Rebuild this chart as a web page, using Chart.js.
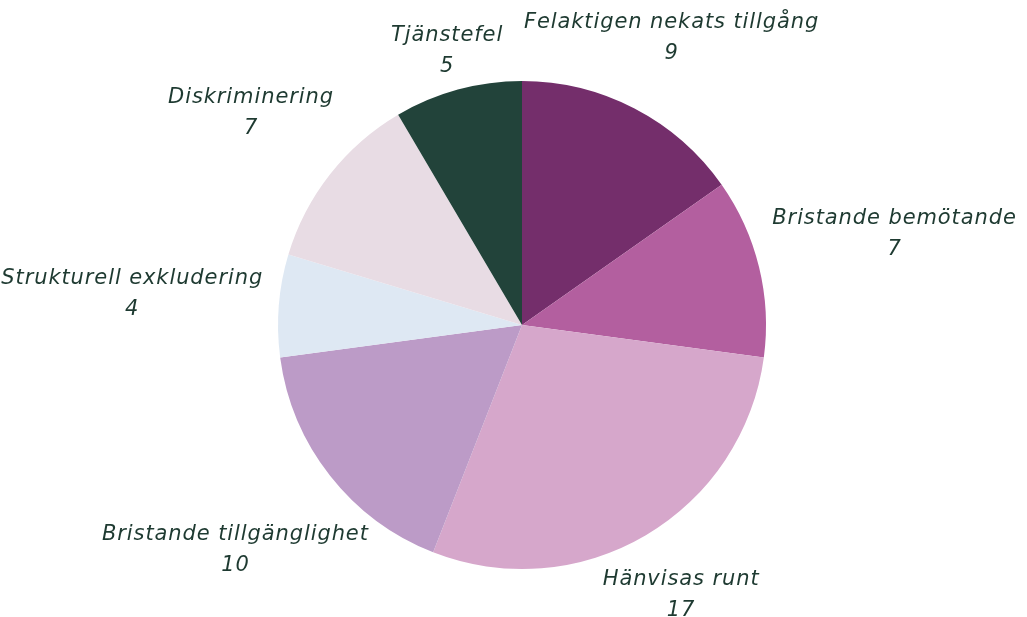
<!DOCTYPE html>
<html lang="sv">
<head>
  <meta charset="UTF-8" />
  <title>Ärenden per kategori</title>
  <script src="https://cdn.jsdelivr.net/npm/chart.js@4.4.1/dist/chart.umd.min.js"></script>
  <style>
    html, body { margin: 0; padding: 0; background: #ffffff; }
    #wrap { width: 1027px; height: 617px; }
  </style>
</head>
<body>
  <div id="wrap"><canvas id="pieChart" width="1027" height="617"></canvas></div>

  <script>
    // data
    const categories = [
      'Felaktigen nekats tillgång',
      'Bristande bemötande',
      'Hänvisas runt',
      'Bristande tillgänglighet',
      'Strukturell exkludering',
      'Diskriminering',
      'Tjänstefel'
    ];
    const counts = [9, 7, 17, 10, 4, 7, 5];
    const sliceColors = ['#742e6b', '#b35f9f', '#d6a7cb', '#bc9bc7', '#dee8f3', '#e8dce4', '#22433a'];

    const textColor = '#1e3a31';
    const labelFont = 'oblique 21px "DejaVu Sans", sans-serif';

    // outside labels: name on first line, count below, pushed out along the mid angle
    const outsideLabels = {
      id: 'outsideLabels',
      afterDatasetsDraw(chart) {
        const ctx = chart.ctx;
        const meta = chart.getDatasetMeta(0);
        ctx.save();
        ctx.font = labelFont;
        ctx.letterSpacing = '0.9px';
        ctx.fillStyle = textColor;
        ctx.textAlign = 'center';
        ctx.textBaseline = 'middle';
        meta.data.forEach((arc, i) => {
          const p = arc.getProps(['x', 'y', 'startAngle', 'endAngle', 'outerRadius'], true);
          const mid = (p.startAngle + p.endAngle) / 2;
          const h = Math.abs(Math.cos(mid));
          const w = ctx.measureText(categories[i]).width;
          const dist = p.outerRadius + 16 + 66 * h + 0.25 * h * w;
          const cx = p.x + Math.cos(mid) * dist;
          const cy = p.y + Math.sin(mid) * dist;
          ctx.fillText(categories[i], cx, cy - 15);
          ctx.fillText(String(counts[i]), cx, cy + 16);
        });
        ctx.restore();
      }
    };

    new Chart(document.getElementById('pieChart'), {
      type: 'pie',
      data: {
        labels: categories,
        datasets: [{
          data: counts,
          backgroundColor: sliceColors,
          borderWidth: 0
        }]
      },
      options: {
        responsive: false,
        animation: false,
        layout: { padding: { top: 81, bottom: 48, left: 17, right: 0 } },
        plugins: {
          legend: { display: false },
          tooltip: { enabled: false }
        }
      },
      plugins: [outsideLabels]
    });
  </script>
</body>
</html>
